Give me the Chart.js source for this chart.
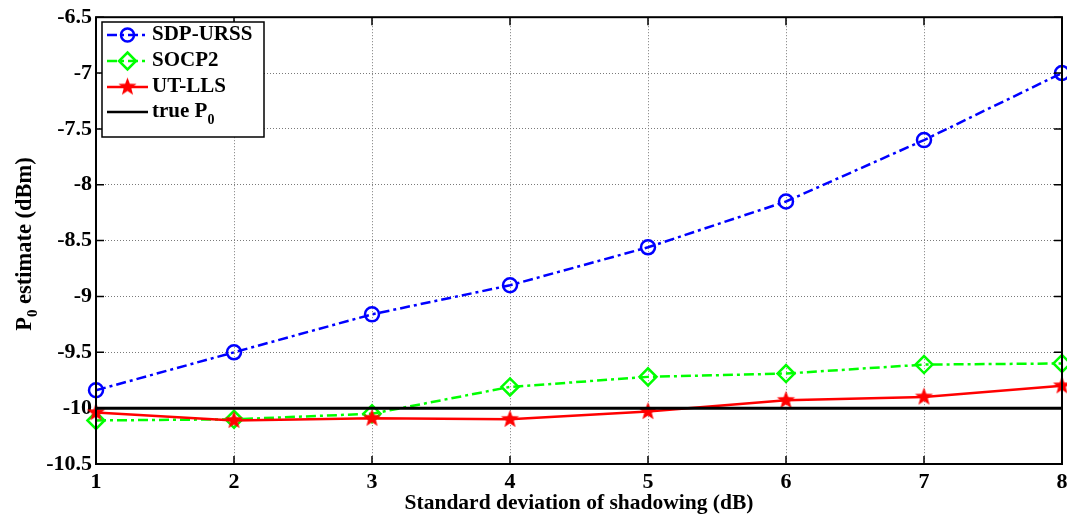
<!DOCTYPE html>
<html>
<head>
<meta charset="utf-8">
<script src="https://cdn.jsdelivr.net/npm/chart.js@4/dist/chart.umd.min.js"></script>
<style>
  html, body { margin: 0; padding: 0; background: #fff; }
  #wrap { width: 1067px; height: 518px; position: relative; }
</style>
</head>
<body>
<div id="wrap"><canvas id="p0Chart" width="1067" height="518"></canvas></div>
<script>
const xValues = [1, 2, 3, 4, 5, 6, 7, 8];
const sdpUrss = [-9.84, -9.50, -9.16, -8.90, -8.56, -8.15, -7.60, -7.00];
const socp2 = [-10.11, -10.10, -10.05, -9.81, -9.72, -9.69, -9.61, -9.60];
const utLls = [-10.04, -10.11, -10.09, -10.10, -10.03, -9.93, -9.90, -9.80];
const trueP0 = -10;
const yTicks = [-10.5, -10, -9.5, -9, -8.5, -8, -7.5, -7, -6.5];
const legendNames = ["SDP-URSS", "SOCP2", "UT-LLS", "true P"];

const FONT = "'Liberation Serif', 'Times New Roman', serif";
const DASHDOT = [10, 4, 3, 4];

// filled five point star marker
function makeStar(r, color) {
  const c = document.createElement("canvas");
  c.width = c.height = Math.ceil(r * 2 + 2);
  const g = c.getContext("2d");
  const cx = c.width / 2, cy = c.height / 2;
  g.beginPath();
  for (let i = 0; i < 10; i++) {
    const rad = i % 2 === 0 ? r : r * 0.42;
    const a = -Math.PI / 2 + i * Math.PI / 5;
    g.lineTo(cx + rad * Math.cos(a), cy + rad * Math.sin(a));
  }
  g.closePath();
  g.fillStyle = color;
  g.fill();
  return c;
}
const starImg = makeStar(9.5, "#ff0000");

const pts = (ys) => ys.map((y, i) => ({ x: xValues[i], y: y }));

const matlabBits = {
  id: "matlabBits",
  afterDraw(chart) {
    const ctx = chart.ctx;
    const a = chart.chartArea;
    const xs = chart.scales.x, ys = chart.scales.y;
    ctx.save();
    // inward ticks
    ctx.strokeStyle = "#000";
    ctx.lineWidth = 1.5;
    ctx.beginPath();
    xValues.forEach((v) => {
      const px = xs.getPixelForValue(v);
      ctx.moveTo(px, a.bottom); ctx.lineTo(px, a.bottom - 8);
      ctx.moveTo(px, a.top); ctx.lineTo(px, a.top + 8);
    });
    yTicks.forEach((v) => {
      const py = ys.getPixelForValue(v);
      ctx.moveTo(a.left, py); ctx.lineTo(a.left + 8, py);
      ctx.moveTo(a.right, py); ctx.lineTo(a.right - 8, py);
    });
    ctx.stroke();
    // box
    ctx.lineWidth = 2;
    ctx.strokeRect(a.left, a.top, a.right - a.left, a.bottom - a.top);

    // y title with subscript
    ctx.fillStyle = "#000";
    ctx.translate(25, 244);
    ctx.rotate(-Math.PI / 2);
    ctx.textBaseline = "middle";
    const t1 = "P", t3 = " estimate (dBm)";
    ctx.font = "bold 15px " + FONT;
    const wSub = ctx.measureText("0").width;
    ctx.font = "bold 22.5px " + FONT;
    const w1 = ctx.measureText(t1).width, w3 = ctx.measureText(t3).width;
    const x0 = -(w1 + wSub + w3) / 2;
    ctx.textAlign = "left";
    ctx.fillText(t1, x0, 0);
    ctx.font = "bold 15px " + FONT;
    ctx.fillText("0", x0 + w1, 8);
    ctx.font = "bold 22.5px " + FONT;
    ctx.fillText(t3, x0 + w1 + wSub, 0);
    ctx.restore();

    // legend
    ctx.save();
    const lx = 102, ly = 22, lw = 162, lh = 115;
    ctx.fillStyle = "#fff";
    ctx.fillRect(lx, ly, lw, lh);
    ctx.strokeStyle = "#000";
    ctx.lineWidth = 1.5;
    ctx.strokeRect(lx, ly, lw, lh);
    const rows = [35, 61, 87, 112];
    const styles = [
      { c: "#0000ff", dash: DASHDOT, m: "circle" },
      { c: "#00ff00", dash: DASHDOT, m: "diamond" },
      { c: "#ff0000", dash: [], m: "star" },
      { c: "#000000", dash: [], m: null }
    ];
    rows.forEach((ry, i) => {
      const s = styles[i];
      ctx.strokeStyle = s.c;
      ctx.lineWidth = 2.5;
      ctx.setLineDash(s.dash);
      ctx.beginPath();
      ctx.moveTo(107, ry); ctx.lineTo(148, ry);
      ctx.stroke();
      ctx.setLineDash([]);
      const mx = 127.5;
      if (s.m === "circle") {
        ctx.beginPath(); ctx.arc(mx, ry, 6.5, 0, Math.PI * 2); ctx.stroke();
      } else if (s.m === "diamond") {
        ctx.beginPath();
        ctx.moveTo(mx, ry - 8.5); ctx.lineTo(mx + 8.5, ry); ctx.lineTo(mx, ry + 8.5); ctx.lineTo(mx - 8.5, ry);
        ctx.closePath(); ctx.stroke();
      } else if (s.m === "star") {
        ctx.drawImage(starImg, mx - starImg.width / 2, ry - starImg.height / 2);
      }
      ctx.fillStyle = "#000";
      ctx.font = "bold 21px " + FONT;
      ctx.textBaseline = "middle";
      ctx.textAlign = "left";
      ctx.fillText(legendNames[i], 152, ry);
      if (i === 3) {
        const w = ctx.measureText(legendNames[i]).width;
        ctx.font = "bold 14px " + FONT;
        ctx.fillText("0", 152 + w, ry + 8);
      }
    });
    ctx.restore();
  }
};

const ctx = document.getElementById("p0Chart").getContext("2d");

new Chart(ctx, {
  type: "line",
  data: {
    datasets: [
      {
        label: "SDP-URSS",
        data: pts(sdpUrss),
        borderColor: "#0000ff",
        borderWidth: 2.5,
        borderDash: DASHDOT,
        pointStyle: "circle",
        pointRadius: 7,
        pointBorderWidth: 2.5,
        pointBorderColor: "#0000ff",
        pointBackgroundColor: "rgba(0,0,0,0)",
        clip: false,
        order: 3
      },
      {
        label: "SOCP2",
        data: pts(socp2),
        borderColor: "#00ff00",
        borderWidth: 2.5,
        borderDash: DASHDOT,
        pointStyle: "rectRot",
        pointRadius: 8.5,
        pointBorderWidth: 2.5,
        pointBorderColor: "#00ff00",
        pointBackgroundColor: "rgba(0,0,0,0)",
        clip: false,
        order: 2
      },
      {
        label: "UT-LLS",
        data: pts(utLls),
        borderColor: "#ff0000",
        borderWidth: 2.5,
        pointStyle: starImg,
        clip: false,
        order: 1
      },
      {
        label: "true P0",
        data: [{ x: xValues[0], y: trueP0 }, { x: xValues[xValues.length - 1], y: trueP0 }],
        borderColor: "#000000",
        borderWidth: 3,
        pointRadius: 0,
        order: 0
      }
    ]
  },
  options: {
    responsive: false,
    animation: false,
    layout: { autoPadding: false, padding: { top: 14, right: 5, left: 0, bottom: 0 } },
    plugins: {
      legend: { display: false },
      tooltip: { enabled: false }
    },
    scales: {
      x: {
        type: "linear",
        min: 1,
        max: 8,
        afterBuildTicks: (s) => { s.ticks = xValues.map((v) => ({ value: v })); },
        afterFit: (s) => { s.height = 54; s.paddingRight = 0; s.paddingLeft = 0; },
        ticks: {
          color: "#000",
          font: { family: FONT, size: 22, weight: "bold" },
          padding: 5,
          maxRotation: 0
        },
        grid: { color: "#7a7a7a", lineWidth: 1, drawTicks: false },
        border: { display: false, dash: [1, 2] },
        title: {
          display: true,
          text: "Standard deviation of shadowing (dB)",
          color: "#000",
          font: { family: FONT, size: 21.5, weight: "bold" },
          padding: { top: 0, bottom: 2 }
        }
      },
      y: {
        type: "linear",
        min: -10.5,
        max: -6.5,
        afterBuildTicks: (s) => { s.ticks = yTicks.map((v) => ({ value: v })); },
        afterFit: (s) => { s.width = 96; },
        ticks: {
          color: "#000",
          font: { family: FONT, size: 22, weight: "bold" },
          padding: 4,
          callback: (v) => String(v)
        },
        grid: { color: "#7a7a7a", lineWidth: 1, drawTicks: false },
        border: { display: false, dash: [1, 2] }
      }
    }
  },
  plugins: [matlabBits]
});
</script>
</body>
</html>
